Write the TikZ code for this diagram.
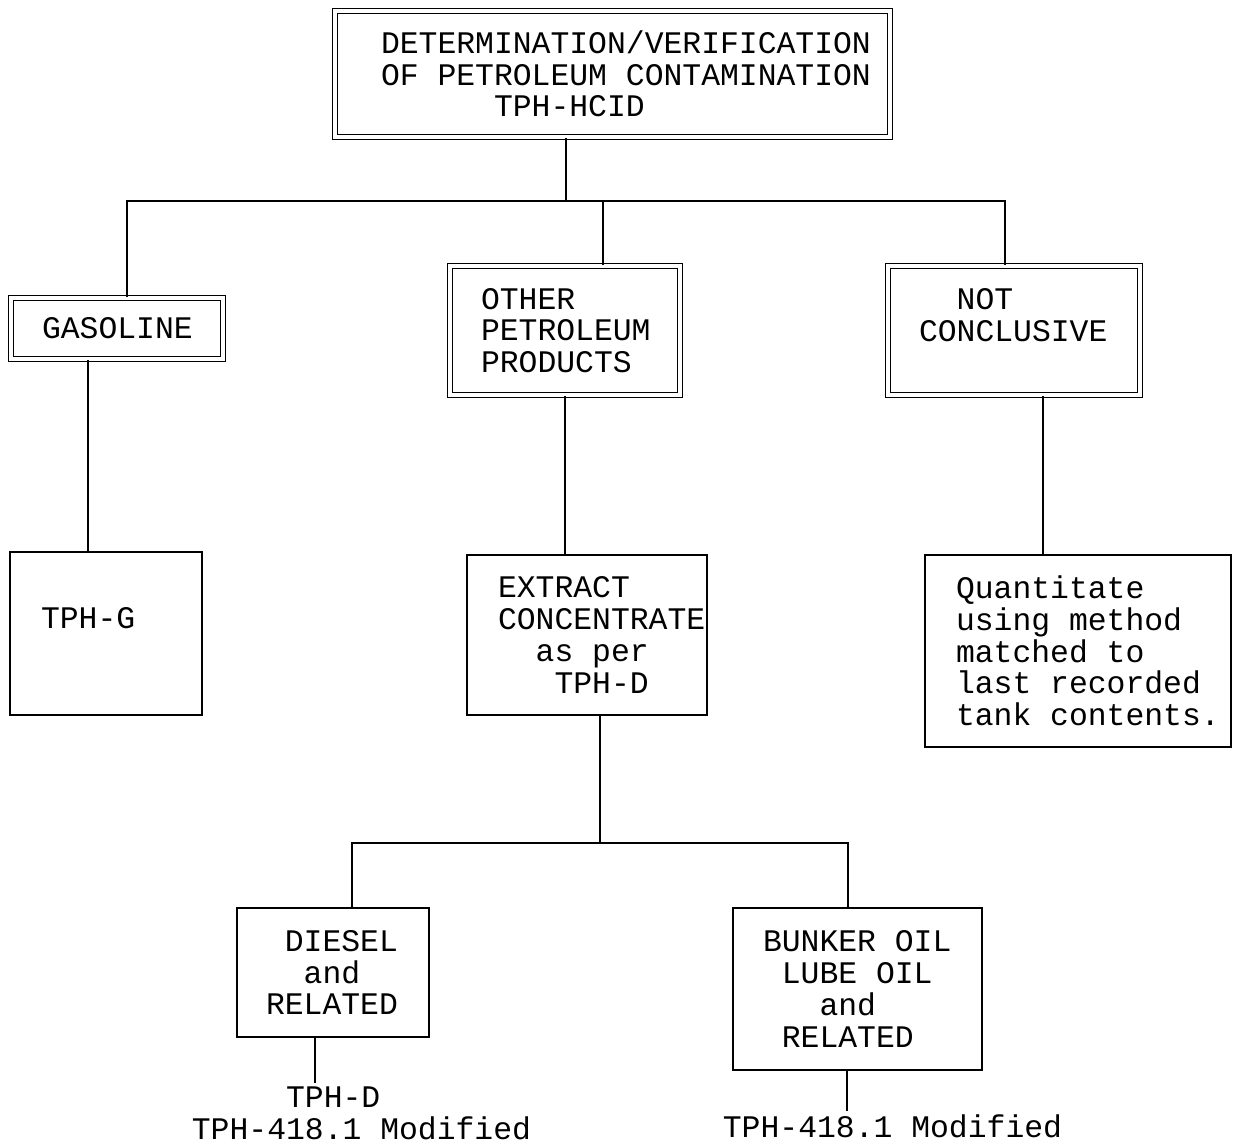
\documentclass[tikz,border=0pt]{standalone}
\usepackage{fontspec}
\setmainfont{Liberation Mono}
\newcommand{\fixsp}{\spaceskip=0.6em\relax\xspaceskip=0.6em\relax}

\begin{document}
\begin{tikzpicture}[x=0.5pt,y=-0.5pt,line width=0.9pt,
    font=\fontsize{15.7}{15.85}\selectfont,
    lskip/.style={execute at begin node={\fixsp\leftskip=#1\relax\hyphenpenalty=10000\exhyphenpenalty=10000\hbadness=10000\hfuzz=50pt}},
    box/.style 2 args={draw,minimum height=#2,text width=#1-1pt,inner xsep=0.5pt,inner ysep=0pt,align=left,lskip=15pt},
    dbox/.style 2 args={box={#1}{#2},double,double distance=1.6pt},
    lbl/.style={inner sep=1.5pt,align=left,execute at begin node=\fixsp}]
  \useasboundingbox (0,0) rectangle (1233,1147);
  \node[dbox={277.5pt}{63pt},lskip=22.5pt] (hcid) at (612.5,74)
    {DETERMINATION/VERIFICATION\\OF PETROLEUM CONTAMINATION\\~~~~~~TPH-HCID};
  \node[dbox={106pt}{30.5pt}] (gas) at (117,328.5) {GASOLINE};
  \node[dbox={115pt}{64.5pt}] (other) at (565,330.5) {OTHER\\PETROLEUM\\PRODUCTS};
  \node[dbox={126pt}{64.5pt}] (notc) at (1014,330.5) {~~NOT\\CONCLUSIVE\\\mbox{}};
  \node[box={96pt}{81.5pt}] (tphg) at (106,633.5) {TPH-G\\\mbox{}};
  \node[box={120pt}{80pt}] (extr) at (587,635) {EXTRACT\\CONCENTRATE\\~~as per\\~~~TPH-D};
  \node[box={153pt}{96pt}] (quant) at (1078,651)
    {Quantitate\\using method\\matched to\\last recorded\\tank contents.};
  \node[box={96pt}{64.5pt},lskip=14pt] (diesel) at (333,972.5) {~DIESEL\\~~and\\RELATED};
  \node[box={124.5pt}{81pt},lskip=14.5pt] (bunker) at (857.5,989)
    {BUNKER OIL\\~LUBE OIL\\~~~and\\~RELATED};
  \node[lbl,anchor=north west] (tphd) at (188,1083) {~~~~~TPH-D\\TPH-418.1 Modified};
  \node[lbl,anchor=north west] (tphb) at (719,1111) {TPH-418.1 Modified};
  % tree lines
  \coordinate (stem) at (566,201);
  \coordinate (busL) at (127,201);
  \coordinate (busR) at (1005,201);
  \coordinate (drop) at (603,201);
  \draw (stem |- hcid.south) -- (stem);
  \draw (busL |- gas.north) -- (busL) -- (busR) -- (busR |- notc.north);
  \draw (drop) -- (drop |- other.north);
  \draw (88,0 |- gas.south) -- (88,0 |- tphg.north);
  \draw (565,0 |- other.south) -- (565,0 |- extr.north);
  \draw (1043,0 |- notc.south) -- (1043,0 |- quant.north);
  \coordinate (split) at (600,843);
  \coordinate (splitL) at (352,843);
  \coordinate (splitR) at (848,843);
  \draw (split |- extr.south) -- (split);
  \draw (splitL |- diesel.north) -- (splitL) -- (splitR) -- (splitR |- bunker.north);
  \draw (315,0 |- diesel.south) -- (315,0 |- tphd.north);
  \draw (847,0 |- bunker.south) -- (847,0 |- tphb.north);
\end{tikzpicture}
\end{document}
